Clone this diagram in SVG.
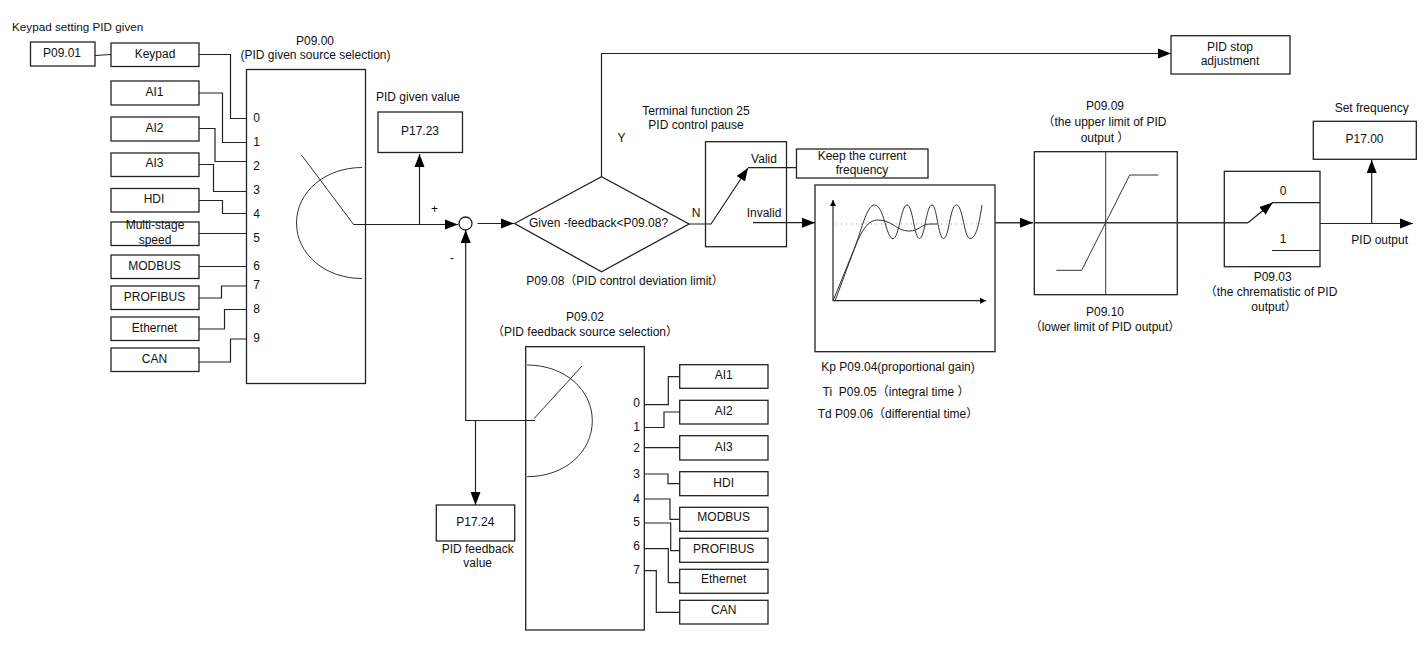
<svg xmlns="http://www.w3.org/2000/svg" width="1428" height="645" viewBox="0 0 1428 645">
<style>
text{font-family:"Liberation Sans","Noto Sans CJK SC",Arial,sans-serif;font-size:12px;fill:#111;text-anchor:middle;white-space:pre}
.s{text-anchor:start;font-size:11.700px}
rect,polygon,circle{fill:#fff;stroke:#222;stroke-width:1.3}
.open{fill:none}
.soft{fill:none;stroke:#333;stroke-width:1.5}
path,line,polyline{fill:none;stroke:#222;stroke-width:1.2}
.thin{stroke:#333;stroke-width:1}
.dot{stroke:#999;stroke-width:1;stroke-dasharray:1 4}
.ah{marker-end:url(#arrow)}
.ahs{marker-end:url(#small)}
marker path{fill:#000;stroke:none}
</style>
<defs>
<marker id="arrow" markerUnits="userSpaceOnUse" markerWidth="14" markerHeight="11" refX="13" refY="5.500" orient="auto"><path d="M0 0.500L13 5.500L0 10.500Z"/></marker>
<marker id="small" markerUnits="userSpaceOnUse" markerWidth="7" markerHeight="7" refX="6" refY="3" orient="auto"><path d="M0 0L6 3L0 6Z"/></marker>
</defs>
<rect x="0" y="0" width="1428" height="645" style="fill:#fff;stroke:none"/>
<text class="s" x="12" y="31">Keypad setting PID given</text>
<g id="p0901"><rect x="30.500" y="42" width="64.500" height="24"/><text x="62" y="56.500">P09.01</text></g>
<g id="keypad"><rect x="111" y="43" width="88" height="23.500"/><text x="155" y="57.500">Keypad</text></g>
<g id="ai1"><rect x="111" y="81" width="88" height="24"/><text x="154.500" y="95.500">AI1</text></g>
<g id="ai2"><rect x="111" y="117" width="88" height="24"/><text x="154.500" y="131.500">AI2</text></g>
<g id="ai3"><rect x="111" y="153" width="88" height="23.500"/><text x="154.500" y="166.500">AI3</text></g>
<g id="hdi"><rect x="111" y="188.500" width="88" height="23.500"/><text x="154" y="202.500">HDI</text></g>
<g id="multi"><rect x="111" y="222" width="88" height="23.500"/><text x="155" y="228.500">Multi-stage</text><text x="155" y="243.500">speed</text></g>
<g id="modbus"><rect x="111" y="255" width="88" height="23.500"/><text x="154.500" y="269.500">MODBUS</text></g>
<g id="profibus"><rect x="111" y="286" width="88" height="23.500"/><text x="154.500" y="300.500">PROFIBUS</text></g>
<g id="ethernet"><rect x="111" y="317" width="88" height="23.500"/><text x="154.500" y="331.500">Ethernet</text></g>
<g id="can"><rect x="111" y="348" width="88" height="23.500"/><text x="154.500" y="362.500">CAN</text></g>
<g id="p0900">
<text x="315" y="44.500">P09.00</text><text x="315.500" y="58.500">(PID given source selection)</text>
<rect class="open" x="246.500" y="69.500" width="119" height="314"/>
<text x="256.500" y="122">0</text><text x="256.500" y="146">1</text><text x="256.500" y="170">2</text><text x="256.500" y="194">3</text><text x="256.500" y="218">4</text><text x="256.500" y="242">5</text><text x="256.500" y="270">6</text><text x="256.500" y="289">7</text><text x="256.500" y="313">8</text><text x="256.500" y="342">9</text>
<line class="thin" x1="301.500" y1="155" x2="354" y2="225"/>
<path class="thin" d="M362 167.500C325 167.500 296.500 192 296.500 223C296.500 254 325 278.500 362 278.500"/>
</g>
<g id="p1723"><text x="418" y="100.500">PID given value</text><rect x="378" y="112" width="84.500" height="40.500"/><text x="420" y="134.500">P17.23</text></g>
<g id="sum"><circle cx="465.500" cy="223.500" r="6.500"/><text x="434.500" y="213">+</text><text x="452" y="262">-</text></g>
<g id="decision"><polygon class="open" points="514.600,223.500 601.500,176.700 689,224 601.500,271.700"/><text x="598.600" y="226.700">Given -feedback&lt;P09.08?</text><text x="625" y="284.700">P09.08（PID control deviation limit）</text><text x="621.400" y="141.700">Y</text><text x="696" y="216.500">N</text></g>
<g id="pause"><text x="696" y="114.700">Terminal function 25</text><text x="696" y="129">PID control pause</text><rect class="open" x="705.500" y="141.700" width="81" height="105"/><text x="764" y="162.700">Valid</text><text x="764" y="216.700">Invalid</text></g>
<g id="keep"><rect x="796.500" y="149" width="131.500" height="29"/><text x="862" y="160">Keep the current</text><text x="862" y="174">frequency</text></g>
<g id="stop"><rect x="1171" y="35.700" width="119" height="38.300"/><text x="1230" y="50.700">PID stop</text><text x="1230" y="64.700">adjustment</text></g>
<g id="pid">
<rect class="open" x="815" y="185" width="180" height="166.700"/>
<line class="dot" x1="836" y1="224" x2="985" y2="224"/>
<line class="ahs" x1="833" y1="300.700" x2="833" y2="200"/>
<line class="ahs" x1="833" y1="300.700" x2="986" y2="300.700"/>
<path class="thin" d="M833 301L855 247C862 228 867 205 874.600 205C884 205 886 238.700 893 238.700C899 238.700 901 205 907 205C913 205 914 238.500 919.500 238.500C925 238.500 926 205 932 205C937 205 938 238.500 943.600 238.500C949 238.500 950 205 956.400 205C963 205 964 238.500 970 238.500C976 238.500 979 225 982 205"/>
<path class="thin" d="M835 301L855 247C862 230 868 220 878 220C892 220 897 231 908.600 231C920 231 921 224 930 224L937 224"/>
<text x="898" y="371">Kp P09.04(proportional gain)</text><text x="896" y="395.500">Ti  P09.05（integral time ）</text><text x="898" y="418">Td P09.06（differential time）</text>
</g>
<g id="limit">
<text x="1105" y="110.300">P09.09</text><text x="1104.500" y="125.700">（the upper limit of PID</text><text x="1105" y="141.700">output ）</text>
<rect class="open" x="1034.300" y="151.700" width="143" height="143"/>
<line class="thin" x1="1105.700" y1="151.700" x2="1105.700" y2="294.700"/>
<polyline class="thin" points="1056.300,270.300 1081.700,270.300 1129.700,175 1158.300,175"/>
<text x="1105" y="315.700">P09.10</text><text x="1105" y="331">（lower limit of PID output）</text>
</g>
<g id="p0903"><rect class="open" x="1224.300" y="171.300" width="95.700" height="95.400"/><text x="1283" y="194.700">0</text><text x="1283" y="242.700">1</text><text x="1272.700" y="280.700">P09.03</text><text x="1271" y="295.700">（the chrematistic of PID</text><text x="1274" y="310.700">output）</text></g>
<g id="p1700"><text x="1371.700" y="111.700">Set frequency</text><rect x="1313.300" y="121.300" width="103" height="38"/><text x="1364.500" y="142.700">P17.00</text><text x="1379.700" y="243.700">PID output</text></g>
<g id="p0902">
<text x="585" y="320.700">P09.02</text><text x="585" y="335.700">（PID feedback source selection）</text>
<rect class="open" x="525.700" y="346.700" width="118.600" height="283.300"/>
<path class="thin" d="M527 365C565 365 592.300 390 592.300 420.700C592.300 452 565 476.700 527 476.700"/>
<line class="thin" x1="534" y1="418.700" x2="582" y2="366"/>
<text x="636.700" y="406.700">0</text><text x="636.700" y="431">1</text><text x="636.700" y="451.700">2</text><text x="636.700" y="478.300">3</text><text x="636.700" y="503">4</text><text x="636.700" y="525.700">5</text><text x="636.700" y="550">6</text><text x="636.700" y="574">7</text>
</g>
<g id="p1724"><rect x="436.300" y="505" width="78.400" height="36"/><text x="475.300" y="525.700">P17.24</text><text x="477.700" y="553">PID feedback</text><text x="477.700" y="567">value</text></g>
<g id="fb-ai1"><rect x="679.700" y="364.700" width="88.300" height="23.600"/><text x="723.700" y="379">AI1</text></g>
<g id="fb-ai2"><rect x="679.700" y="400.300" width="88.300" height="23.700"/><text x="723.700" y="414.700">AI2</text></g>
<g id="fb-ai3"><rect x="679.700" y="435.700" width="88.300" height="24.300"/><text x="723.700" y="450.700">AI3</text></g>
<g id="fb-hdi"><rect x="679.700" y="471.700" width="88.300" height="24"/><text x="723.700" y="486.700">HDI</text></g>
<g id="fb-modbus"><rect x="679.700" y="507.300" width="88.300" height="24"/><text x="723.700" y="521.300">MODBUS</text></g>
<g id="fb-profibus"><rect x="679.700" y="538.300" width="88.300" height="24"/><text x="723.700" y="552.700">PROFIBUS</text></g>
<g id="fb-ethernet"><rect x="679.700" y="569.300" width="88.300" height="24"/><text x="723.700" y="583.300">Ethernet</text></g>
<g id="fb-can"><rect x="679.700" y="600.300" width="88.300" height="23.700"/><text x="723.700" y="614.300">CAN</text></g>
<g id="connectors">
<line x1="95" y1="55.500" x2="111" y2="54.500"/>
<polyline points="199,54.500 230.500,54.500 230.500,118.500 246.500,118.500"/>
<polyline points="199,93 222.500,93 222.500,142.500 246.500,142.500"/>
<polyline points="199,128.500 215,128.500 215,161.500 246.500,161.500"/>
<polyline points="199,164.500 213.500,164.500 213.500,191.500 246.500,191.500"/>
<polyline points="199,200.500 222.500,200.500 222.500,213.500 246.500,213.500"/>
<line x1="199" y1="233.500" x2="246.500" y2="233.500"/>
<line x1="199" y1="266.500" x2="246.500" y2="266.500"/>
<polyline points="199,298 221.500,298 221.500,286 246.500,286"/>
<polyline points="199,329 224.500,329 224.500,309.500 246.500,309.500"/>
<polyline points="199,362 230.500,362 230.500,339 246.500,339"/>
<line class="ah" x1="354" y1="224.500" x2="458" y2="224.500"/>
<line class="ah" x1="419.500" y1="224.500" x2="419.500" y2="154"/>
<line class="ah" x1="477.500" y1="223.500" x2="514" y2="223.500"/>
<line class="ah" x1="465.700" y1="421" x2="465.700" y2="230"/>
<polyline points="465.700,420.500 535,420.500"/>
<line class="ah" x1="475.500" y1="420.500" x2="475.500" y2="505"/>
<polyline class="ah" points="601.500,177 601.500,53.500 1171,53.500"/>
<polyline class="ah" points="689,224 711,224 748,168"/>
<line x1="748" y1="167.700" x2="796.500" y2="167.700"/>
<line class="ah" x1="753" y1="222.700" x2="815" y2="222.700"/>
<line class="ah soft" x1="995" y1="222.700" x2="1033" y2="222.700"/>
<line class="soft" x1="1034" y1="222.700" x2="1248" y2="222.700"/>
<line class="ah" x1="1248" y1="222.700" x2="1272.500" y2="202.700"/>
<line x1="1272" y1="202.700" x2="1320" y2="202.700"/>
<line x1="1272" y1="250.500" x2="1320" y2="250.500"/>
<line class="ah" x1="1320" y1="223.500" x2="1413" y2="223.500"/>
<line class="ah" x1="1371.700" y1="223.500" x2="1371.700" y2="160"/>
<polyline points="644.300,404.700 668.300,404.700 668.300,376.700 679.700,376.700"/>
<polyline points="644.300,427.500 664,427.500 664,412 679.700,412"/>
<line x1="644.300" y1="447.700" x2="679.700" y2="447.700"/>
<polyline points="644.300,474 668,474 668,483.700 679.700,483.700"/>
<polyline points="644.300,499 670,499 670,519.300 679.700,519.300"/>
<polyline points="644.300,523 670.700,523 670.700,550.700 679.700,550.700"/>
<polyline points="644.300,548.700 668.300,548.700 668.300,582.700 679.700,582.700"/>
<polyline points="644.300,570.700 656.300,570.700 656.300,612.300 679.700,612.300"/>
</g>
</svg>
